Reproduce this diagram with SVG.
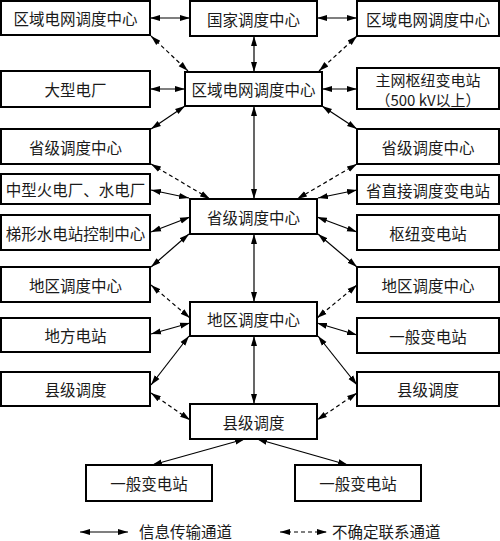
<svg xmlns="http://www.w3.org/2000/svg" width="500" height="541" viewBox="0 0 500 541">
<defs>
<marker id="ah" markerUnits="userSpaceOnUse" markerWidth="11" markerHeight="8" refX="10" refY="4" orient="auto-start-reverse">
<path d="M0,1 L10,4 L0,7 Z" fill="#000"/>
</marker>
<style>
.box{fill:#fff;stroke:#000;stroke-width:2}
.t{font-family:"Noto Sans CJK SC","Liberation Serif",sans-serif;font-size:15.5px;fill:#1a1a1a;text-anchor:middle;dominant-baseline:central}
.t2{font-family:"Noto Sans CJK SC","Liberation Serif",sans-serif;font-size:15px;fill:#1a1a1a;text-anchor:middle;dominant-baseline:central}
.lt{font-family:"Noto Sans CJK SC","Liberation Serif",sans-serif;font-size:15.5px;fill:#1a1a1a;dominant-baseline:central}
.c{stroke:#000;stroke-width:1.2;fill:none;marker-start:url(#ah);marker-end:url(#ah)}
.d{stroke-dasharray:4,3}
</style>
</defs>
<rect width="500" height="541" fill="#fff"/>
<g id="connectors">
<line class="c" x1="150" y1="18" x2="190" y2="18"/>
<line class="c" x1="317" y1="18" x2="357" y2="18"/>
<line class="c" x1="254" y1="36" x2="254" y2="72"/>
<line class="c d" x1="151" y1="36" x2="188" y2="71"/>
<line class="c d" x1="357" y1="36" x2="319" y2="71"/>
<line class="c" x1="150" y1="89" x2="185" y2="89"/>
<line class="c" x1="322" y1="89" x2="357" y2="89"/>
<line class="c" x1="185" y1="106" x2="151" y2="129"/>
<line class="c" x1="322" y1="106" x2="357" y2="129"/>
<line class="c" x1="254" y1="106" x2="254" y2="199"/>
<line class="c d" x1="151" y1="164" x2="210" y2="199"/>
<line class="c d" x1="357" y1="164" x2="297" y2="199"/>
<line class="c" x1="151" y1="190" x2="189" y2="198"/>
<line class="c" x1="151" y1="232" x2="190" y2="217"/>
<line class="c" x1="189" y1="234" x2="151" y2="267"/>
<line class="c" x1="357" y1="190" x2="318" y2="198"/>
<line class="c" x1="357" y1="232" x2="317" y2="217"/>
<line class="c" x1="318" y1="234" x2="357" y2="267"/>
<line class="c" x1="254" y1="234" x2="254" y2="302"/>
<line class="c d" x1="151" y1="285" x2="190" y2="318"/>
<line class="c d" x1="357" y1="285" x2="317" y2="318"/>
<line class="c" x1="151" y1="334" x2="190" y2="323"/>
<line class="c" x1="357" y1="335" x2="317" y2="323"/>
<line class="c" x1="189" y1="336" x2="151" y2="385"/>
<line class="c" x1="318" y1="336" x2="357" y2="385"/>
<line class="c" x1="254" y1="336" x2="254" y2="404"/>
<line class="c d" x1="151" y1="393" x2="190" y2="420"/>
<line class="c d" x1="357" y1="393" x2="317" y2="420"/>
<line class="c" x1="245" y1="439" x2="152" y2="465"/>
<line class="c" x1="257" y1="439" x2="348" y2="465"/>
</g>
<g id="L1"><rect class="box" x="1" y="1" width="149" height="34"/><text class="t" x="75.5" y="18">区域电网调度中心</text></g>
<g id="L2"><rect class="box" x="1" y="71" width="149" height="36"/><text class="t" x="75.5" y="89">大型电厂</text></g>
<g id="L3"><rect class="box" x="1" y="129" width="149" height="35"/><text class="t" x="75.5" y="146.5">省级调度中心</text></g>
<g id="L4"><rect class="box" x="1" y="174" width="149" height="30"/><text class="t" x="75.5" y="189">中型火电厂、水电厂</text></g>
<g id="L5"><rect class="box" x="1" y="215" width="149" height="35"/><text class="t" x="75.5" y="232.5">梯形水电站控制中心</text></g>
<g id="L6"><rect class="box" x="1" y="267" width="149" height="35"/><text class="t" x="75.5" y="284.5">地区调度中心</text></g>
<g id="L7"><rect class="box" x="1" y="318" width="149" height="34"/><text class="t" x="75.5" y="335">地方电站</text></g>
<g id="L8"><rect class="box" x="1" y="372" width="149" height="34"/><text class="t" x="75.5" y="389">县级调度</text></g>
<g id="C1"><rect class="box" x="190" y="1" width="127" height="35"/><text class="t" x="253.5" y="18.5">国家调度中心</text></g>
<g id="C2"><rect class="box" x="185" y="72" width="137" height="34"/><text class="t" x="253.5" y="89">区域电网调度中心</text></g>
<g id="C3"><rect class="box" x="190" y="199" width="127" height="35"/><text class="t" x="253.5" y="216.5">省级调度中心</text></g>
<g id="C4"><rect class="box" x="190" y="302" width="127" height="34"/><text class="t" x="253.5" y="319">地区调度中心</text></g>
<g id="C5"><rect class="box" x="190" y="404" width="127" height="35"/><text class="t" x="253.5" y="421.5">县级调度</text></g>
<g id="R1"><rect class="box" x="357" y="1" width="142" height="35"/><text class="t" x="428" y="18.5">区域电网调度中心</text></g>
<g id="R2"><rect class="box" x="357" y="68" width="142" height="41"/><text class="t2" x="428" y="79">主网枢纽变电站</text><text class="t2" x="428" y="99.5">（500 kV以上）</text></g>
<g id="R3"><rect class="box" x="357" y="129" width="142" height="35"/><text class="t" x="428" y="146.5">省级调度中心</text></g>
<g id="R4"><rect class="box" x="357" y="175" width="142" height="29"/><text class="t" x="428" y="189.5">省直接调度变电站</text></g>
<g id="R5"><rect class="box" x="357" y="215" width="142" height="35"/><text class="t" x="428" y="232.5">枢纽变电站</text></g>
<g id="R6"><rect class="box" x="357" y="267" width="142" height="35"/><text class="t" x="428" y="284.5">地区调度中心</text></g>
<g id="R7"><rect class="box" x="357" y="318" width="142" height="35"/><text class="t" x="428" y="335.5">一般变电站</text></g>
<g id="R8"><rect class="box" x="357" y="372" width="142" height="34"/><text class="t" x="428" y="389">县级调度</text></g>
<g id="B1"><rect class="box" x="86" y="465" width="126" height="36"/><text class="t" x="149" y="483">一般变电站</text></g>
<g id="B2"><rect class="box" x="295" y="465" width="126" height="36"/><text class="t" x="358" y="483">一般变电站</text></g>
<g id="legend">
<line class="c" x1="80" y1="532" x2="128" y2="532"/>
<text class="lt" x="139" y="530.5">信息传输通道</text>
<line class="c d" x1="280" y1="532" x2="327" y2="532"/>
<text class="lt" x="332" y="530.5">不确定联系通道</text>
</g>
</svg>
